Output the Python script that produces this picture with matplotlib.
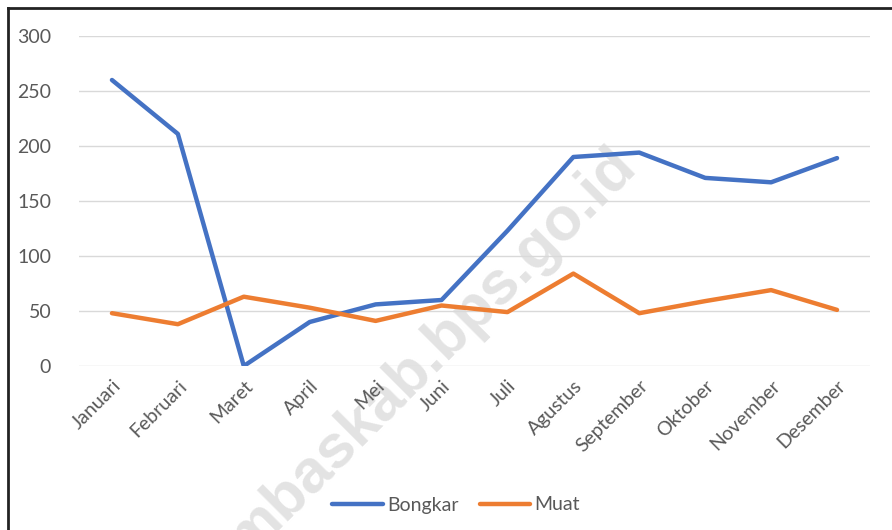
import numpy as np
import matplotlib.pyplot as plt
from matplotlib.lines import Line2D

plt.rcParams['font.family'] = ['Lato', 'DejaVu Sans']

bulan = ['Januari', 'Februari', 'Maret', 'April', 'Mei', 'Juni', 'Juli',
         'Agustus', 'September', 'Oktober', 'November', 'Desember']
bongkar = [260, 211, 0, 40, 56, 60, 123, 190, 194, 171, 167, 189]
muat = [48, 38, 63, 53, 41, 55, 49, 84, 48, 59, 69, 51]

blue = '#4472C4'
orange = '#ED7D31'
txt = '#595959'

fig = plt.figure(figsize=(8.92, 5.30), dpi=100)
ax = fig.add_axes([79/892, 1 - 366/530, (870 - 79)/892, 330/530], zorder=2)
ax.patch.set_visible(False)

x = np.arange(len(bulan))
ax.plot(x, bongkar, color=blue, lw=3.2, solid_capstyle='round', label='Bongkar', zorder=3)
ax.plot(x, muat, color=orange, lw=3.2, solid_capstyle='round', label='Muat', zorder=3)

ax.set_xlim(-0.5, len(bulan) - 0.5)
ax.set_ylim(0, 300)
ax.set_yticks(np.arange(0, 301, 50))
ax.grid(axis='y', color='#d9d9d9', lw=1)
ax.set_axisbelow(True)
for s in ax.spines.values():
    s.set_visible(False)
ax.tick_params(axis='both', length=0, colors=txt, labelsize=14)
ax.tick_params(axis='y', pad=20)
ax.set_xticks(x)
ax.set_xticklabels(bulan, rotation=45, ha='right', rotation_mode='anchor')
ax.tick_params(axis='x', pad=8)

# watermark, behind everything
fig.text(0.484, 0.336, 'mbaskab.bps.go.id', rotation=45, fontsize=44, fontweight='bold',
         family='Liberation Sans', color='#e3e3e3', ha='center', va='center', zorder=0)

leg = fig.legend(loc='center', bbox_to_anchor=(456/892, 1 - 505/530), ncol=2,
                 frameon=False, fontsize=14, handlelength=2.6, handletextpad=0.2,
                 columnspacing=1.1)
leg.set_zorder(3)
for t in leg.get_texts():
    t.set_color(txt)

# frame (only top and left are visible in the crop)
fig.add_artist(Line2D([8/892, 1], [1 - 8/530, 1 - 8/530], color='#222222', lw=2,
                      transform=fig.transFigure))
fig.add_artist(Line2D([8/892, 8/892], [0, 1 - 8/530], color='#222222', lw=2,
                      transform=fig.transFigure))

fig.savefig('out.png', dpi=100)
